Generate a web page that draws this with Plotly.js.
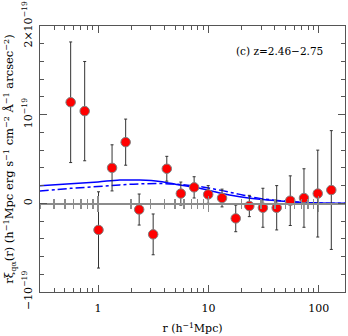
<!DOCTYPE html>
<html>
<head>
<meta charset="utf-8">
<script src="https://cdn.plot.ly/plotly-3.0.1.min.js"></script>
<style>
  body { margin: 0; background: #fff; }
  #plot { width: 348px; height: 336px; }
</style>
</head>
<body>
<div id="plot"></div>
<script>
// measured points (units of 1e-19)
var rBins = [0.565, 0.757, 1.01, 1.34, 1.78, 2.36, 3.16, 4.2, 5.63, 7.43,
             9.96, 13.3, 17.7, 23.5, 31.2, 41.6, 55.2, 73.5, 98, 130];
var xiVals = [1.14, 1.04, -0.30, 0.40, 0.69, -0.07, -0.35, 0.39, 0.11, 0.18,
              0.10, 0.06, -0.17, -0.03, -0.05, -0.05, 0.03, 0.06, 0.11, 0.15];
var xiErr = [0.68, 0.56, 0.43, 0.26, 0.26, 0.175, 0.23, 0.14, 0.13, 0.12,
             0.10, 0.10, 0.15, 0.12, 0.22, 0.25, 0.28, 0.33, 0.49, 0.67];

// model curves
var rModel = [0.296, 0.565, 1.0, 1.57, 2.39, 3.63, 5.5, 8.37, 12.7, 19.3,
              29.3, 44.6, 67.8, 103, 173];
var modelSolid = [0.198, 0.221, 0.242, 0.262, 0.262, 0.247, 0.206, 0.169, 0.116, 0.075,
                  0.045, 0.026, 0.011, 0.003, 0.0];
var modelDashDot = [0.138, 0.169, 0.190, 0.208, 0.219, 0.223, 0.213, 0.188, 0.149, 0.101,
                    0.056, 0.030, 0.011, 0.003, 0.0];

var scale = 1e-19;
var sc = function (a) { return a.map(v => v * scale); };

var font = "DejaVu Serif, serif";

var solid = {
  x: rModel, y: sc(modelSolid),
  mode: "lines", line: {color: "#0000ff", width: 1.5, shape: "spline"},
  hoverinfo: "skip"
};
var dashdot = {
  x: rModel, y: sc(modelDashDot),
  mode: "lines", line: {color: "#0000ff", width: 1.5, dash: "dashdot", shape: "spline"},
  hoverinfo: "skip"
};
var points = {
  x: rBins, y: sc(xiVals),
  mode: "markers",
  marker: {color: "#ff0000", size: 9.5, line: {color: "#808080", width: 1}},
  error_y: {type: "data", array: sc(xiErr), color: "#333333", thickness: 1, width: 1.5}
};
// empty traces so the axes through y=0 get drawn
var zeroUp = {x: [1], y: [0], xaxis: "x2", mode: "markers", marker: {opacity: 0}, hoverinfo: "skip"};
var zeroDown = {x: [1], y: [0], xaxis: "x3", mode: "markers", marker: {opacity: 0}, hoverinfo: "skip"};

var xr = [Math.log10(0.298), Math.log10(173)];
var zeroPos = 1 / 3;

var zeroAxis = function (dir) {
  return {
    type: "log", range: xr, overlaying: "x", anchor: "free", position: zeroPos,
    showline: dir === "outside", linecolor: "#8c8c8c", linewidth: 1.5,
    ticks: dir, ticklen: 7, tickwidth: 1.5, tickcolor: "#8c8c8c",
    tickvals: [1, 10, 100], showticklabels: false, showgrid: false,
    minor: {ticks: dir, ticklen: 4, tickcolor: "#8c8c8c", dtick: "D1", showgrid: false}
  };
};

var layout = {
  width: 348, height: 336,
  margin: {l: 40, r: 3, t: 26, b: 44},
  showlegend: false,
  paper_bgcolor: "#fff", plot_bgcolor: "#fff",
  font: {family: font, size: 11, color: "#000"},
  xaxis: {
    type: "log", range: xr,
    tickvals: [1, 10, 100], ticktext: ["1", "10", "100"],
    ticks: "inside", ticklen: 7, tickcolor: "#555", mirror: "ticks",
    showline: true, linecolor: "#555", linewidth: 1,
    showgrid: false, zeroline: false,
    minor: {ticks: "inside", ticklen: 4, tickcolor: "#555", dtick: "D1", showgrid: false},
    tickfont: {family: font, size: 11},
    ticklabelstandoff: 6,
    title: {text: "r (h<sup>−1</sup>Mpc)", font: {family: font, size: 11}, standoff: 10}
  },
  xaxis2: zeroAxis("outside"),
  xaxis3: zeroAxis("inside"),
  yaxis: {
    range: [-1e-19, 2e-19],
    tickvals: [-1e-19, 0, 1e-19, 2e-19],
    ticktext: ["−10<sup>−19</sup>", "0", "10<sup>−19</sup>", "2×10<sup>−19</sup>"],
    tickangle: -90,
    ticks: "inside", ticklen: 7, tickcolor: "#555", mirror: "ticks",
    showline: true, linecolor: "#555", linewidth: 1,
    showgrid: false, zeroline: false,
    minor: {ticks: "inside", ticklen: 4, tickcolor: "#555", dtick: 0.2e-19, showgrid: false},
    tickfont: {family: font, size: 11},
    ticklabelstandoff: 3,
    title: {
      text: "rξ<sub>qα</sub>(r) (h<sup>−1</sup>Mpc erg s<sup>−1</sup> cm<sup>−2</sup> Å<sup>−1</sup> arcsec<sup>−2</sup>)",
      font: {family: font, size: 11.5}, standoff: 3
    }
  },
  annotations: [{
    xref: "paper", yref: "paper", x: 0.935, y: 0.905,
    xanchor: "right", yanchor: "middle", showarrow: false,
    text: "(c) z=2.46−2.75", font: {family: font, size: 10.5}
  }]
};

Plotly.newPlot("plot", [solid, dashdot, zeroUp, zeroDown, points], layout, {displayModeBar: false, staticPlot: true});
</script>
</body>
</html>
